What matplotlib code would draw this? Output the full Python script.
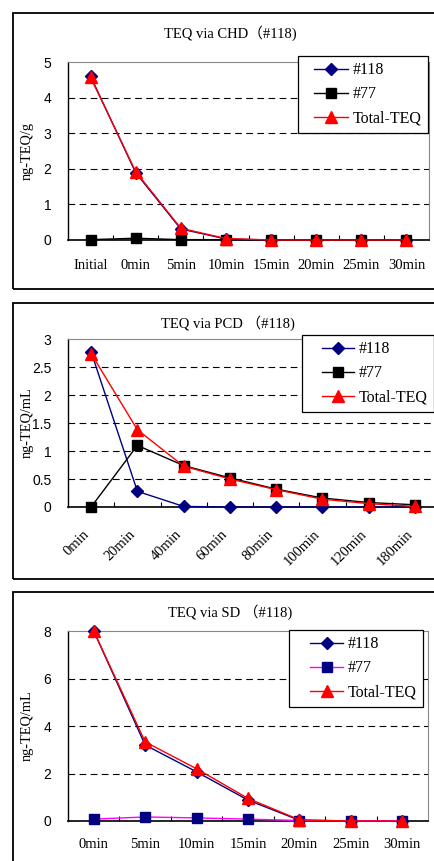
import matplotlib
matplotlib.use('Agg')
import matplotlib.pyplot as plt
from matplotlib.patches import Rectangle
from matplotlib.ticker import FixedLocator
from matplotlib.lines import Line2D
from matplotlib.legend_handler import HandlerLine2D
from matplotlib.transforms import ScaledTranslation

plt.rcParams['font.family'] = ['Liberation Serif', 'Noto Sans CJK JP']

# --- data ---
chd_labels = ['Initial', '0min', '5min', '10min', '15min', '20min', '25min', '30min']
chd_118 = [4.60, 1.89, 0.31, 0.03, 0, 0, 0, 0]
chd_77 = [0.01, 0.05, 0.01, 0.01, 0, 0, 0, 0]
chd_total = [4.57, 1.92, 0.33, 0.04, 0, 0, 0, 0]

pcd_labels = ['0min', '20min', '40min', '60min', '80min', '100min', '120min', '180min']
pcd_118 = [2.77, 0.28, 0.01, 0, 0, 0, 0, 0]
pcd_77 = [0.0, 1.10, 0.74, 0.52, 0.32, 0.16, 0.08, 0.04]
pcd_total = [2.74, 1.38, 0.73, 0.50, 0.31, 0.14, 0.06, 0.01]

sd_labels = ['0min', '5min', '10min', '15min', '20min', '25min', '30min']
sd_118 = [8.0, 3.20, 2.07, 0.88, 0.03, 0, 0]
sd_77 = [0.08, 0.17, 0.13, 0.08, 0.02, 0.01, 0.01]
sd_total = [8.0, 3.33, 2.20, 0.95, 0.05, 0, 0]

W, H = 434, 861
fig = plt.figure(figsize=(W / 100, H / 100), dpi=100)
fig.patch.set_facecolor('white')

NAVY = '#000080'
RED = '#FF0000'
LEG_FS = 11.5
EM = LEG_FS * 100 / 72  # legend font size in px


def px_axes(x0, x1, y0, y1):
    # pixel box (top-left origin) -> axes
    return fig.add_axes([x0 / W, 1 - y1 / H, (x1 - x0) / W, (y1 - y0) / H])


def outer_box(x0, y0, x1, y1):
    fig.add_artist(Rectangle((x0 / W, 1 - y1 / H), (x1 - x0) / W, (y1 - y0) / H,
                             transform=fig.transFigure, fill=False,
                             edgecolor='black', lw=1.3, clip_on=False))


def panel(ax, labels, s118, s77, stot, ymax, yticks, yticklabels, ylabel,
          title, title_x, title_y, leg, c77_line='black', c77_mark='black',
          rot=False, xpad=8):
    x = list(range(len(labels)))
    ax.plot(x, s118, color=NAVY, lw=1.0, marker='D', ms=6.5, mfc=NAVY, mec=NAVY,
            label='#118', clip_on=False, zorder=3)
    ax.plot(x, s77, color=c77_line, lw=1.0, marker='s', ms=7, mfc=c77_mark,
            mec=c77_mark, label='#77', clip_on=False, zorder=4)
    ax.plot(x, stot, color=RED, lw=1.0, marker='^', ms=8, mfc=RED, mec=RED,
            label='Total-TEQ', clip_on=False, zorder=5)
    ax.set_xlim(-0.5, len(labels) - 0.5)
    ax.set_ylim(0, ymax)
    ax.set_yticks(yticks)
    ax.set_yticklabels(yticklabels, family='Liberation Sans', fontsize=10)
    ax.tick_params(axis='y', length=0, pad=12)
    ax.set_xticks(x)
    if rot:
        ax.set_xticklabels(labels, fontsize=10.5, rotation=45, ha='right',
                           va='top', rotation_mode='anchor')
        ax.tick_params(axis='x', which='major', length=0, pad=xpad)
        shift = ScaledTranslation(-9 / 100, 0, fig.dpi_scale_trans)
        for t in ax.get_xticklabels():
            t.set_transform(t.get_transform() + shift)
    else:
        ax.set_xticklabels(labels, fontsize=10.5)
        ax.tick_params(axis='x', which='major', length=0, pad=xpad)
    ax.xaxis.set_minor_locator(FixedLocator([i + 0.5 for i in x[:-1]]))
    ax.tick_params(axis='x', which='minor', direction='in', length=3.5,
                   width=0.8, color='black')
    ax.grid(axis='y', color='black', lw=0.8, linestyle=(0, (6, 4)))
    for t in ax.yaxis.get_gridlines()[-1:]:
        t.set_visible(False)
    ax.spines['left'].set_color('black')
    ax.spines['bottom'].set_color('black')
    ax.spines['bottom'].set_linewidth(1.2)
    ax.spines['left'].set_linewidth(1.0)
    ax.spines['top'].set_color('#888888')
    ax.spines['right'].set_color('#888888')
    ax.set_ylabel(ylabel, fontsize=10.3)
    bb = ax.get_position()
    ax.yaxis.set_label_coords((34 / W - bb.x0) / bb.width, 0.5)
    fig.text(title_x / W, 1 - title_y / H, title, ha='center', va='center',
             fontsize=10.5)

    # legend geometry: left, top, start of handle line, start of text (px)
    lx, ly, line_x, text_x = leg
    pad = 0.4
    hx = (line_x - lx - pad * EM) / EM
    hl = (text_x - 5 - lx - pad * EM) / EM
    lg = ax.legend(loc='upper left', bbox_to_anchor=(lx / W, 1 - ly / H),
                   bbox_transform=fig.transFigure, fontsize=LEG_FS, numpoints=1,
                   fancybox=False, framealpha=1, edgecolor='black',
                   handlelength=hl, handletextpad=5 / EM, labelspacing=0.5,
                   borderpad=pad, borderaxespad=0,
                   handler_map={Line2D: HandlerLine2D(xpad=hx)})
    lg.get_frame().set_linewidth(0.9)
    lg.set_zorder(10)


# panel 1 : CHD
outer_box(13, 13, 460, 289)
ax1 = px_axes(68, 429, 62, 240)
panel(ax1, chd_labels, chd_118, chd_77, chd_total, 5, [0, 1, 2, 3, 4, 5],
      ['0', '1', '2', '3', '4', '5'], 'ng-TEQ/g', 'TEQ via CHD（#118)', 230, 33,
      (298, 56, 314, 353), xpad=14)

# panel 2 : PCD
outer_box(13, 303, 460, 579)
ax2 = px_axes(68, 438, 339, 507)
panel(ax2, pcd_labels, pcd_118, pcd_77, pcd_total, 3, [0, 0.5, 1, 1.5, 2, 2.5, 3],
      ['0', '0.5', '1', '1.5', '2', '2.5', '3'], 'ng-TEQ/mL',
      'TEQ via PCD （#118)', 228, 323, (302, 335, 322, 359), rot=True, xpad=15)

# panel 3 : SD
outer_box(13, 592, 460, 900)
ax3 = px_axes(68, 428, 631, 821)
panel(ax3, sd_labels, sd_118, sd_77, sd_total, 8, [0, 2, 4, 6, 8],
      ['0', '2', '4', '6', '8'], 'ng-TEQ/mL', 'TEQ via SD （#118)', 230, 612,
      (289, 630, 310, 348), c77_line='#FF00FF', c77_mark=NAVY, xpad=12)

fig.savefig('out.png', dpi=100, facecolor='white')
